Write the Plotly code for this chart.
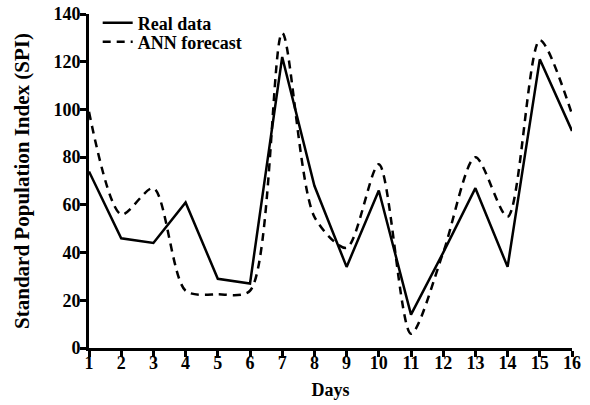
import plotly.graph_objects as go

days = list(range(1, 17))
real_data = [74, 46, 44, 61, 29, 27, 122, 68, 34, 66, 14, 40, 67, 34, 121, 91]
ann_forecast = [99, 56, 67, 24, 22.5, 24, 132, 55, 42, 77, 6, 40, 80, 55, 129, 98]

font_family = "Liberation Serif, Times New Roman, serif"

fig = go.Figure()
fig.add_trace(go.Scatter(
    x=days, y=real_data, mode="lines", name="<b>Real data</b>",
    line=dict(color="black", width=2.5), legend="legend",
))
fig.add_trace(go.Scatter(
    x=days, y=ann_forecast, mode="lines", name="<b>ANN forecast</b>",
    line=dict(color="black", width=2.5, dash="8px,6px", shape="spline", smoothing=0.8),
    legend="legend2",
))

leg_common = dict(xanchor="left", yanchor="middle", bgcolor="rgba(0,0,0,0)",
                  font=dict(size=18), itemwidth=30)

fig.update_layout(
    width=590, height=405,
    margin=dict(l=89, r=18, t=14, b=57, autoexpand=False),
    paper_bgcolor="white", plot_bgcolor="white",
    font=dict(family=font_family, size=18, color="black"),
    showlegend=True,
    legend=dict(x=0.018, y=0.973, **leg_common),
    legend2=dict(x=0.018, y=0.916, **leg_common),
    xaxis=dict(
        range=[1, 16], tickmode="array", tickvals=days,
        ticktext=["<b>%d</b>" % d for d in days],
        showline=True, linecolor="black", linewidth=3,
        ticks="outside", ticklen=6, tickwidth=3, tickcolor="black",
        ticklabelstandoff=-10,
        showgrid=False, zeroline=False, automargin=False,
        title=dict(text="<b>Days</b>", font=dict(size=18), standoff=12),
    ),
    yaxis=dict(
        range=[0, 140], tickmode="array", tickvals=list(range(0, 141, 20)),
        ticktext=["<b>%d</b>" % v for v in range(0, 141, 20)],
        showline=True, linecolor="black", linewidth=3,
        ticks="outside", ticklen=6, tickwidth=3, tickcolor="black",
        ticklabelstandoff=-4,
        showgrid=False, zeroline=False, automargin=False,
        title=dict(text="<b>Standard Population Index (SPI)</b>", font=dict(size=21), standoff=19),
    ),
)

fig.write_html(
    "out.html",
    config={"displayModeBar": False},
    post_script="document.body.style.margin='0';document.body.style.padding='0';",
)
